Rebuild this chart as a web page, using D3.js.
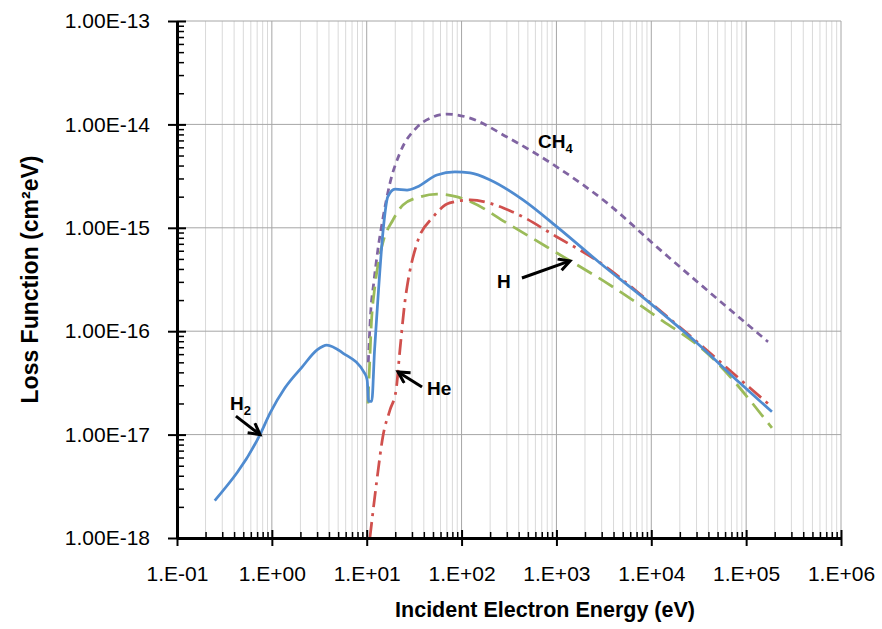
<!DOCTYPE html>
<html>
<head>
<meta charset="utf-8">
<script src="https://cdn.jsdelivr.net/npm/d3@7"></script>
<style>
  html, body { margin: 0; padding: 0; background: #fff; }
  svg text { font-family: "Liberation Sans", Arial, sans-serif; }
</style>
</head>
<body>
<svg width="882" height="629"></svg>
<script>
// energies in eV, loss function in cm^2 eV
const h2Energy = [0.25, 0.75, 0.96, 1.37, 2.08, 3.0, 3.8, 5.6, 9.6, 10.1, 10.5, 11.3, 12.1, 13.1, 14.9, 16.7, 19.9, 26.6, 33.9, 55, 85, 123, 200, 444, 1014, 2877, 9690, 30300, 86100, 187000];
const h2Loss = [2.3e-18, 1.0e-17, 1.62e-17, 2.82e-17, 4.5e-17, 6.6e-17, 7.35e-17, 6.15e-17, 3.86e-17, 3.4e-17, 2.1e-17, 2.1e-17, 6.6e-17, 2.0e-16, 9.5e-16, 2.0e-15, 2.37e-15, 2.32e-15, 2.48e-15, 3.24e-15, 3.47e-15, 3.39e-15, 2.9e-15, 1.86e-15, 1.02e-15, 4.57e-16, 1.87e-16, 7.7e-17, 3.15e-17, 1.66e-17];

const ch4Energy = [10.4, 11.0, 11.9, 13.1, 14.9, 17.6, 22.4, 33.9, 50, 70, 123, 301, 1014, 3410, 11500, 38600, 170000];
const ch4Loss = [5.0e-17, 1.5e-16, 3.0e-16, 6.1e-16, 1.27e-15, 2.71e-15, 5.3e-15, 9.4e-15, 1.18e-14, 1.26e-14, 1.15e-14, 7.55e-15, 3.87e-15, 1.74e-15, 6.5e-16, 2.5e-16, 7.9e-17];

const hEnergy = [10.3, 10.7, 11.2, 12.0, 13.2, 15.0, 18.9, 24.1, 36.5, 55, 90, 123, 301, 1014, 3410, 11500, 38600, 187000];
const hLoss = [2.0e-17, 4.5e-17, 1.2e-16, 2.4e-16, 4.5e-16, 7.5e-16, 1.19e-15, 1.66e-15, 1.99e-15, 2.12e-15, 1.99e-15, 1.8e-15, 1.11e-15, 5.7e-16, 2.92e-16, 1.37e-16, 6.15e-17, 1.16e-17];

const heEnergy = [10.8, 12.8, 14.9, 17.6, 20.4, 22.4, 25.4, 26.6, 33.9, 50, 75, 123, 348, 1014, 2877, 9690, 21600, 110000, 187000];
const heLoss = [1.0e-18, 3.64e-18, 9.9e-18, 1.73e-17, 2.7e-17, 6.6e-17, 2.0e-16, 2.67e-16, 7.1e-16, 1.27e-15, 1.74e-15, 1.86e-15, 1.42e-15, 8.15e-16, 4.6e-16, 1.9e-16, 1.03e-16, 2.82e-17, 1.85e-17];

const xTicks = [1e-1, 1e0, 1e1, 1e2, 1e3, 1e4, 1e5, 1e6];
const xTickLabels = ['1.E-01', '1.E+00', '1.E+01', '1.E+02', '1.E+03', '1.E+04', '1.E+05', '1.E+06'];
const yTicks = [1e-18, 1e-17, 1e-16, 1e-15, 1e-14, 1e-13];
const yTickLabels = ['1.00E-18', '1.00E-17', '1.00E-16', '1.00E-15', '1.00E-14', '1.00E-13'];

// [label, sub, labelE, labelL, tailE, tailL, tipE, tipL]
const notes = [
  ['H', '2', 0.362, 1.73e-17, 0.418, 1.51e-17, 0.75, 1.0e-17],
  ['He', '', 43.2, 2.42e-17, 38.3, 2.88e-17, 21.4, 4.03e-17],
  ['H', '', 236, 2.62e-16, 433, 3.27e-16, 1390, 4.78e-16],
  ['CH', '4', 640, 5.91e-15, null, null, null, null]
];

const svg = d3.select('svg');

const x = d3.scaleLog()
  .domain([1e-1, 1e6])
  .range([177, 841]);

const y = d3.scaleLog()
  .domain([1e-18, 1e-13])
  .range([538, 21]);

let minors = lo => {
  let out = [];
  for (let k = lo; k < lo + 8; k++) {
    for (let m = 2; m <= 9; m++) out.push(m * Math.pow(10, k));
  }
  return out;
}
const xMinor = minors(-1).filter(v => v < 1e6);
const yMinor = minors(-18).filter(v => v < 1e-13);

// grid
svg.append('g').selectAll('line')
  .data(xMinor)
  .enter().append('line')
  .attr('x1', d => x(d)).attr('x2', d => x(d))
  .attr('y1', y(1e-13)).attr('y2', y(1e-18))
  .attr('stroke', '#d9d9d9').attr('stroke-width', 1);

svg.append('g').selectAll('line')
  .data(xTicks.slice(1))
  .enter().append('line')
  .attr('x1', d => x(d)).attr('x2', d => x(d))
  .attr('y1', y(1e-13)).attr('y2', y(1e-18))
  .attr('stroke', '#a6a6a6').attr('stroke-width', 1);

svg.append('g').selectAll('line')
  .data(yTicks.slice(1))
  .enter().append('line')
  .attr('x1', x(1e-1)).attr('x2', x(1e6))
  .attr('y1', d => y(d)).attr('y2', d => y(d))
  .attr('stroke', '#a6a6a6').attr('stroke-width', 1);

// series
svg.append('clipPath').attr('id', 'plot')
  .append('rect')
  .attr('x', x(1e-1)).attr('y', y(1e-13))
  .attr('width', x(1e6) - x(1e-1)).attr('height', y(1e-18) - y(1e-13));

const line = d3.line()
  .x(d => x(d[0]))
  .y(d => y(d[1]))
  .curve(d3.curveMonotoneX);

const series = [
  { e: ch4Energy, l: ch4Loss, color: '#8064a2', dash: '7,5' },
  { e: hEnergy, l: hLoss, color: '#9bbb59', dash: '17,8' },
  { e: heEnergy, l: heLoss, color: '#d0504d', dash: '16,6,3,6' },
  { e: h2Energy, l: h2Loss, color: '#4f8bd0', dash: null }
];

series.forEach(s => {
  svg.append('path')
    .datum(s.e.map((v, i) => [v, s.l[i]]))
    .attr('clip-path', 'url(#plot)')
    .attr('fill', 'none')
    .attr('stroke', s.color)
    .attr('stroke-width', 2.75)
    .attr('stroke-dasharray', s.dash)
    .attr('d', line);
});

// axes
const xAxis = svg.append('g')
  .attr('transform', `translate(0,${y(1e-18)})`)
  .call(d3.axisBottom(x).tickValues(xTicks).tickSize(8).tickSizeOuter(0)
    .tickFormat((d, i) => xTickLabels[i]));
xAxis.selectAll('.tick line').attr('y1', -8).attr('stroke-width', 2);
xAxis.select('.domain').attr('stroke-width', 3);
xAxis.selectAll('.tick text')
  .attr('y', 28)
  .attr('fill', '#000')
  .style('font-size', '21px');

svg.append('g')
  .attr('transform', `translate(0,${y(1e-18)})`)
  .call(d3.axisBottom(x).tickValues(xMinor).tickSize(-6).tickFormat(''))
  .call(g => g.select('.domain').remove())
  .selectAll('.tick line').attr('stroke-width', 1.5);

const yAxis = svg.append('g')
  .attr('transform', `translate(${x(1e-1)},0)`)
  .call(d3.axisLeft(y).tickValues(yTicks).tickSize(9).tickSizeOuter(0)
    .tickFormat((d, i) => yTickLabels[i]));
yAxis.selectAll('.tick line').attr('x1', 9).attr('stroke-width', 2);
yAxis.select('.domain').attr('stroke-width', 3);
yAxis.selectAll('.tick text')
  .attr('x', -27)
  .attr('fill', '#000')
  .style('font-size', '21px');

svg.append('g')
  .attr('transform', `translate(${x(1e-1)},0)`)
  .call(d3.axisLeft(y).tickValues(yMinor).tickSize(-7).tickFormat(''))
  .call(g => g.select('.domain').remove())
  .selectAll('.tick line').attr('stroke-width', 1.5);

// titles
svg.append('text')
  .attr('x', 545).attr('y', 617)
  .attr('text-anchor', 'middle')
  .style('font-size', '21.5px').style('font-weight', 'bold')
  .text('Incident Electron Energy (eV)');

svg.append('text')
  .attr('transform', `translate(38,${(y(1e-13) + y(1e-18)) / 2}) rotate(-90)`)
  .attr('text-anchor', 'middle')
  .style('font-size', '23px').style('font-weight', 'bold')
  .text('Loss Function (cm²eV)');

// annotations
svg.append('defs').append('marker')
  .attr('id', 'arrow')
  .attr('markerUnits', 'userSpaceOnUse')
  .attr('markerWidth', 16).attr('markerHeight', 16)
  .attr('refX', 12).attr('refY', 7)
  .attr('orient', 'auto')
  .append('path')
  .attr('d', 'M1,1 L12,7 L1,13')
  .attr('fill', 'none').attr('stroke', '#000').attr('stroke-width', 3);

notes.forEach(n => {
  let t = svg.append('text')
    .attr('x', x(n[2])).attr('y', y(n[3]))
    .style('font-size', '19px').style('font-weight', 'bold');
  t.append('tspan').text(n[0]);
  if (n[1] != '') {
    t.append('tspan').attr('dy', 5).style('font-size', '13px').text(n[1]);
  }
  if (n[4] != null) {
    svg.append('line')
      .attr('x1', x(n[4])).attr('y1', y(n[5]))
      .attr('x2', x(n[6])).attr('y2', y(n[7]))
      .attr('stroke', '#000').attr('stroke-width', 3)
      .attr('marker-end', 'url(#arrow)');
  }
});
</script>
</body>
</html>
